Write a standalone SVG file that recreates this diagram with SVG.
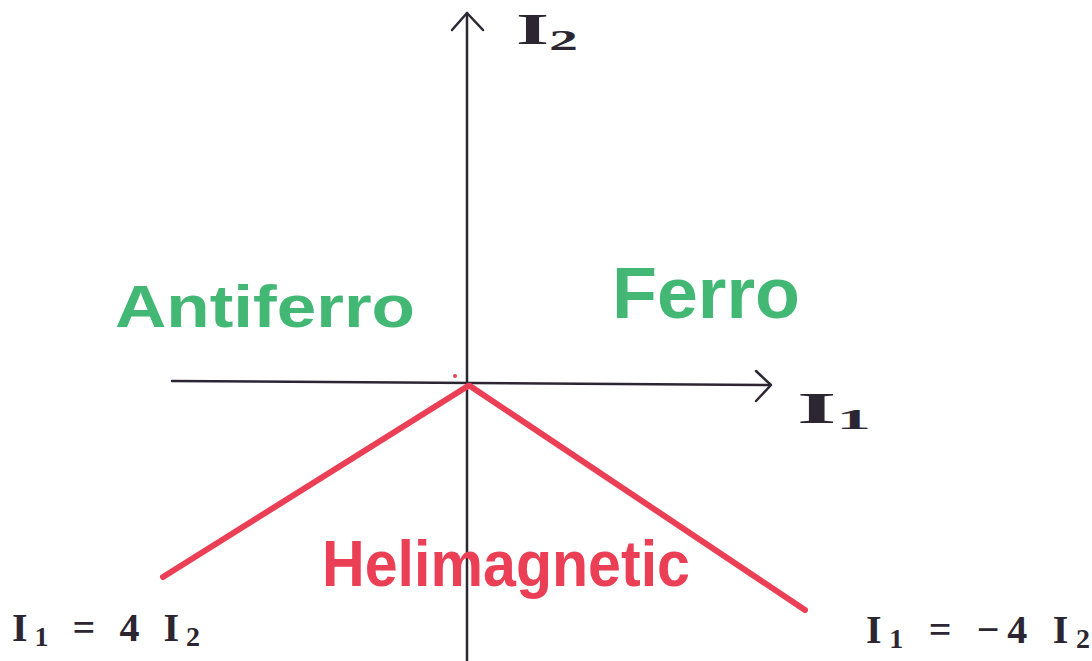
<svg xmlns="http://www.w3.org/2000/svg" width="1092" height="661" viewBox="0 0 1092 661">
<style>
.ax{stroke:#2c2632;stroke-width:2.5;fill:none;stroke-linecap:round;stroke-linejoin:round}
.red{stroke:#ea3f55;stroke-width:6;fill:none;stroke-linecap:round}
.lab{font-family:"Liberation Serif",serif;fill:#2c2632;font-weight:bold}
.green{font-family:"Liberation Sans",sans-serif;fill:#42b874;font-weight:bold}
.redt{font-family:"Liberation Sans",sans-serif;fill:#ea3f55;font-weight:bold}
</style>
<rect width="1092" height="661" fill="#ffffff"/>
<g id="connectors">
<line class="ax" x1="467" y1="13" x2="467" y2="661"/>
<polyline class="ax" points="452,30 467,13 483,30"/>
<line class="ax" x1="172" y1="381" x2="770" y2="385"/>
<polyline class="ax" points="756,371 771,385 756,401"/>
<line class="red" x1="468" y1="386" x2="163" y2="577"/>
<line class="red" x1="470" y1="386" x2="805" y2="610"/>
<circle cx="455" cy="376" r="2" fill="#ea3f55"/>
</g>
<g id="label-I2"><text class="lab" x="516" y="44" font-size="44" textLength="62" lengthAdjust="spacingAndGlyphs">I<tspan font-size="30" dy="6">2</tspan></text></g>
<g id="label-I1"><text class="lab" x="797" y="423" font-size="44" textLength="74" lengthAdjust="spacingAndGlyphs">I<tspan font-size="30" dy="6">1</tspan></text></g>
<g id="antiferro"><text class="green" x="115" y="327" font-size="60" textLength="300" lengthAdjust="spacingAndGlyphs">Antiferro</text></g>
<g id="ferro"><text class="green" x="612" y="318" font-size="72" textLength="188" lengthAdjust="spacingAndGlyphs">Ferro</text></g>
<g id="helimagnetic"><text class="redt" x="322" y="586" font-size="64" textLength="368" lengthAdjust="spacingAndGlyphs">Helimagnetic</text></g>
<g id="eq-left"><text class="lab" x="12" y="641" font-size="40" textLength="188" lengthAdjust="spacing">I<tspan font-size="28" dy="5">1</tspan><tspan dy="-5"> = 4 I</tspan><tspan font-size="28" dy="5">2</tspan></text></g>
<g id="eq-right"><text class="lab" x="866" y="643" font-size="40" textLength="224" lengthAdjust="spacing">I<tspan font-size="28" dy="5">1</tspan><tspan dy="-5"> = −4 I</tspan><tspan font-size="28" dy="5">2</tspan></text></g>
</svg>
